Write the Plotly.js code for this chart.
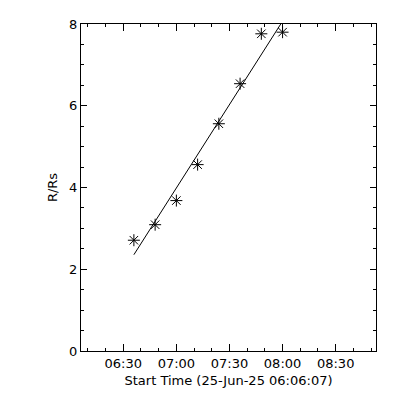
<!DOCTYPE html>
<html>
<head>
<meta charset="utf-8">
<script src="https://cdn.plot.ly/plotly-3.0.1.min.js"></script>
<style>html,body{margin:0;padding:0;background:#fff;}#chart{width:400px;height:400px;}</style>
</head>
<body>
<div id="chart"></div>
<script>
var times = ['2025-06-25 06:36:00','2025-06-25 06:48:00','2025-06-25 07:00:00','2025-06-25 07:12:00',
             '2025-06-25 07:24:00','2025-06-25 07:36:00','2025-06-25 07:48:00','2025-06-25 08:00:00'];
var radius = [2.71, 3.09, 3.68, 4.56, 5.56, 6.54, 7.76, 7.80];
var xRange = ['2025-06-25 06:06:07', '2025-06-25 08:52:47'];
var yTicks = [0, 2, 4, 6, 8];

// linear fit of radius vs time
function toMs(s){ return new Date(s.replace(' ','T')+'Z').getTime(); }
var tms = times.map(toMs);
var n = tms.length, mt = 0, my = 0;
for (var i=0;i<n;i++){ mt += tms[i]; my += radius[i]; }
mt/=n; my/=n;
var sxy=0, sxx=0;
for (var i=0;i<n;i++){ sxy += (tms[i]-mt)*(radius[i]-my); sxx += (tms[i]-mt)*(tms[i]-mt); }
var slope = sxy/sxx, icpt = my - slope*mt;
var fitY = [icpt + slope*tms[0], icpt + slope*tms[n-1]];
var fitX = [times[0], times[n-1]];

var font = {family: 'DejaVu Sans', size: 13, color: '#000'};

var data = [
  {x: fitX, y: fitY, mode: 'lines', line: {color: '#000', width: 1}, hoverinfo: 'skip', showlegend: false},
  {x: times, y: radius, mode: 'markers', marker: {symbol: 'asterisk-open', size: 10, color: '#000', line: {color: '#000', width: 1}}, showlegend: false}
];

var layout = {
  width: 400, height: 400,
  margin: {l: 81, r: 24, t: 24, b: 49},
  paper_bgcolor: '#fff', plot_bgcolor: '#fff',
  font: font,
  showlegend: false,
  xaxis: {
    type: 'date', range: xRange,
    tick0: '2025-06-25 06:30:00', dtick: 1800000, tickformat: '%H:%M',
    ticks: 'inside', ticklen: 7, tickwidth: 1, tickcolor: '#000',
    minor: {dtick: 600000, ticks: 'inside', ticklen: 3, tickwidth: 1, tickcolor: '#000', showgrid: false},
    showline: true, linecolor: '#000', linewidth: 1, mirror: 'allticks',
    showgrid: false, zeroline: false,
    tickfont: font,
    title: {text: 'Start Time (25-Jun-25 06:06:07)', font: font, standoff: 6}
  },
  yaxis: {
    range: [0, 8], tickvals: yTicks, ticktext: yTicks.map(String),
    ticks: 'inside', ticklen: 6, tickwidth: 1, tickcolor: '#000',
    minor: {dtick: 0.5, ticks: 'inside', ticklen: 3, tickwidth: 1, tickcolor: '#000', showgrid: false},
    showline: true, linecolor: '#000', linewidth: 1, mirror: 'allticks',
    showgrid: false, zeroline: false,
    tickfont: font,
    title: {text: 'R/Rs', font: font, standoff: 8}
  }
};

Plotly.newPlot('chart', data, layout, {staticPlot: true, displayModeBar: false});
</script>
</body>
</html>
